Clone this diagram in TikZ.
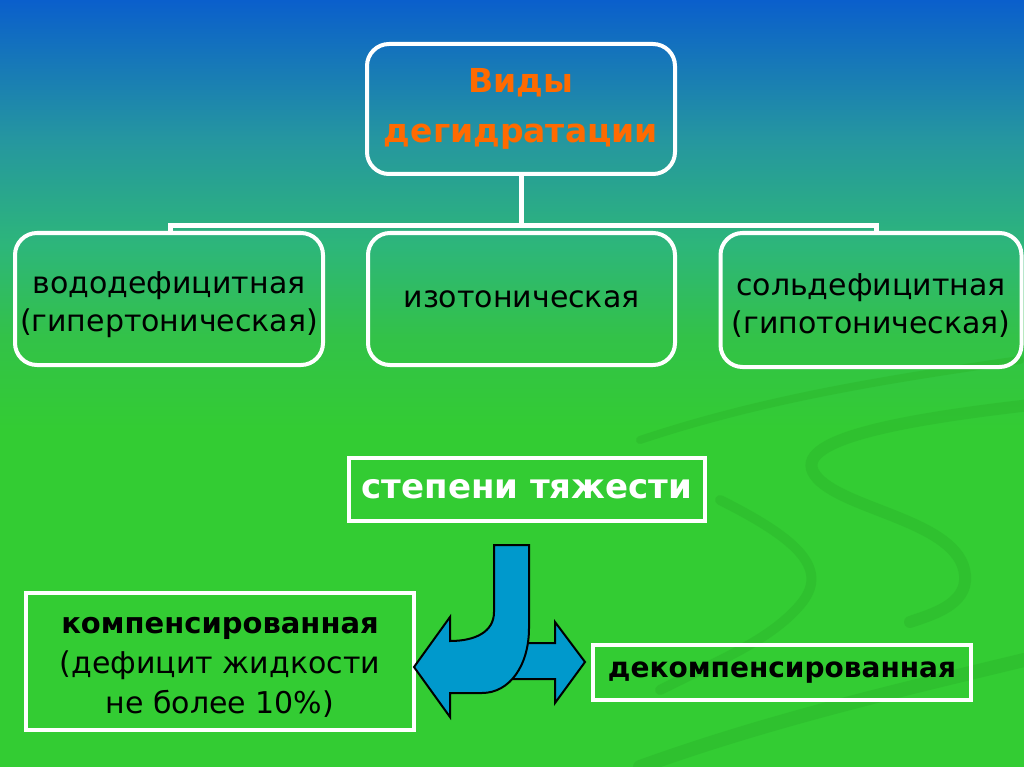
\documentclass[tikz,border=0pt]{standalone}
\usepackage{fontspec}
\setmainfont{DejaVu Sans}
\usetikzlibrary{calc}
\definecolor{bgblue}{HTML}{0A5FCC}
\definecolor{bgmid}{HTML}{2596A0}
\definecolor{bgteal}{HTML}{2DB67A}
\definecolor{bglight}{HTML}{33C248}
\definecolor{bggreen}{HTML}{33CC33}
\definecolor{swirl}{HTML}{2BB52B}
\definecolor{titleorange}{HTML}{FF6A00}
\definecolor{arrowblue}{HTML}{0099CC}
\pgfdeclareverticalshading{bgshade}{100bp}{color(0bp)=(bggreen); color(47bp)=(bggreen); color(53bp)=(bglight); color(59bp)=(bgteal); color(66bp)=(bgmid); color(75bp)=(bgblue); color(100bp)=(bgblue)}
\begin{document}
\begin{tikzpicture}[x=1pt,y=-1pt,
  wbox/.style={draw=white,line width=4pt,inner sep=0pt,align=center},
  rbox/.style={wbox,rounded corners=22pt},
  norm/.style={font=\fontsize{30}{38}\selectfont,text=black},
  conn/.style={draw=white,line width=5pt},
  arrowshape/.style={fill=arrowblue,draw=black,line width=2pt,line join=miter}]
\path[shading=bgshade] (0,0) rectangle (1024,767);
\useasboundingbox (0,0) rectangle (1024,767);
% faint background swirls
\begin{scope}[draw=swirl,line cap=round,opacity=0.45]
\draw[line width=12pt] (1030,405) .. controls (900,420) and (790,440) .. (815,475) .. controls (840,510) and (960,520) .. (965,575) .. controls (968,605) and (930,615) .. (910,622);
\draw[line width=8pt] (640,440) .. controls (760,400) and (880,380) .. (1020,360);
\draw[line width=10pt] (720,500) .. controls (800,540) and (830,570) .. (800,605) .. controls (770,640) and (720,660) .. (660,690);
\draw[line width=14pt] (640,767) .. controls (770,720) and (900,690) .. (1024,660);
\end{scope}
% nodes
\node[rbox,minimum width=308pt,minimum height=130pt,text=titleorange,font=\bfseries\fontsize{33}{50}\selectfont] (top) at (521,109) {Виды\\дегидратации};
\node[rbox,norm,minimum width=308pt,minimum height=132pt] (b1) at (169,299) {\\[-4pt]вододефицитная\\(гипертоническая)};
\node[rbox,norm,minimum width=307pt,minimum height=132pt] (b2) at (521.5,299) {изотоническая};
\node[rbox,norm,minimum width=301pt,minimum height=134pt] (b3) at (871,300) {\\[-6pt]сольдефицитная\\(гипотоническая)};
\coordinate (bus) at (521,228);
\draw[conn] (top.south) -- (bus);
\draw[conn,line cap=butt] ($(b1.north)+(1,1)$) -- ++(0,-6) -- ($(b3.north)+(5,-5)$) -- ++(0,6);
\node[wbox,minimum width=356pt,minimum height=63pt,text=white,font=\bfseries\fontsize{34}{40}\selectfont] (deg) at (527,489.5) {степени тяжести};
\node[wbox,minimum width=388pt,minimum height=137pt] (comp) at (220,661.5) {};
\node[norm,align=center,font=\fontsize{30}{40}\selectfont] (comptext) at (220,667) {{\bfseries\fontsize{29}{40}\selectfont компенсированная}\\(дефицит жидкости\\не более 10\%)};
\node[wbox,minimum width=378pt,minimum height=55pt,font=\bfseries\fontsize{28}{33}\selectfont] (decomp) at (782,672.5) {декомпенсированная};
% split arrow
\coordinate (stemL) at (494,545);
\coordinate (stemR) at (529,545);
\draw[arrowshape] (495,643) -- (555,643) -- (555,622) -- (585,662) -- (555,703) -- (555,679) -- (495,679) -- cycle;
\draw[arrowshape] (stemL) -- (494,612) .. controls (494,632) and (475,641) .. (450,641) -- (450,617) -- (414,667) -- (450,717) -- (450,693) -- (482,693) .. controls (510,693) and (529,665) .. (529,628) -- (stemR) -- cycle;
\end{tikzpicture}
\end{document}
